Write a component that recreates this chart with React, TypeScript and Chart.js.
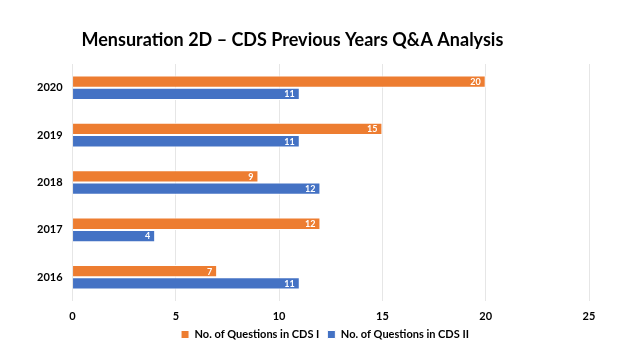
import React, { useEffect, useRef } from "react";
import { Chart, registerables } from "chart.js";

Chart.register(...registerables);

const years = ["2020", "2019", "2018", "2017", "2016"];
const cds1 = [20, 15, 9, 12, 7];
const cds2 = [11, 11, 12, 4, 11];
const titleText = "Mensuration 2D \u2013 CDS Previous Years Q&A Analysis";
const FONT = "Lato, 'Open Sans', sans-serif";

const titlePlugin = {
  id: "leftTitle",
  afterDraw(chart: any) {
    const { ctx, chartArea } = chart;
    ctx.save();
    ctx.font = `bold 18px ${FONT}`;
    ctx.fillStyle = "#000";
    ctx.textAlign = "left";
    ctx.textBaseline = "middle";
    ctx.fillText(titleText, chartArea.left + 9, 40);
    ctx.restore();
  },
};

const legendShift = {
  id: "legendShift",
  afterLayout(chart: any) {
    if (chart.legend) chart.legend.left += 34;
  },
};

const valueLabels = {
  id: "valueLabels",
  afterDatasetsDraw(chart: any) {
    const { ctx } = chart;
    ctx.save();
    ctx.font = `bold 9px ${FONT}`;
    ctx.fillStyle = "#fff";
    ctx.textAlign = "right";
    ctx.textBaseline = "middle";
    chart.data.datasets.forEach((ds: any, i: number) => {
      const meta = chart.getDatasetMeta(i);
      meta.data.forEach((el: any, j: number) => {
        ctx.fillText(String(ds.data[j]), el.x - 5, el.y + 0.5);
      });
    });
    ctx.restore();
  },
};

export default function App() {
  const ref = useRef<HTMLCanvasElement>(null);
  useEffect(() => {
    if (!ref.current) return;
    const chart = new Chart(ref.current, {
      type: "bar",
      data: {
        labels: years,
        datasets: [
          {
            label: "No. of Questions in CDS I",
            data: cds1,
            backgroundColor: "#ED7D31",
            borderColor: "#ffffff",
            borderWidth: 1,
            categoryPercentage: 0.52,
            barPercentage: 1,
          },
          {
            label: "No. of Questions in CDS II",
            data: cds2,
            backgroundColor: "#4472C4",
            borderColor: "#ffffff",
            borderWidth: 1,
            categoryPercentage: 0.52,
            barPercentage: 1,
          },
        ],
      },
      options: {
        indexAxis: "y",
        animation: false,
        responsive: false,
        maintainAspectRatio: false,
        layout: { padding: { top: 64, left: 27, right: 51, bottom: 10 } },
        scales: {
          x: {
            min: 0,
            max: 25,
            ticks: { stepSize: 5, color: "#000", font: { family: FONT, size: 11, weight: "bold" }, padding: 9 },
            grid: { color: "#e6e6e6", drawTicks: false },
            border: { display: false },
            afterFit: (scale: any) => {
              scale.height = 20;
            },
          },
          y: {
            ticks: { color: "#000", font: { family: FONT, size: 11, weight: "bold" }, padding: 10 },
            grid: { display: false, drawTicks: false },
            border: { display: false },
          },
        },
        plugins: {
          legend: {
            position: "bottom",
            labels: {
              color: "#000",
              font: { family: FONT, size: 11, weight: "bold" },
              boxWidth: 8,
              boxHeight: 8,
              padding: 8,
            },
          },
          title: { display: false },
          tooltip: { enabled: false },
        },
      },
      plugins: [titlePlugin, valueLabels, legendShift],
    });
    return () => chart.destroy();
  }, []);
  return (
    <div style={{ position: "fixed", left: 0, top: 0, width: 640, height: 360, background: "#fff" }}>
      <canvas ref={ref} width={640} height={360} />
    </div>
  );
}
